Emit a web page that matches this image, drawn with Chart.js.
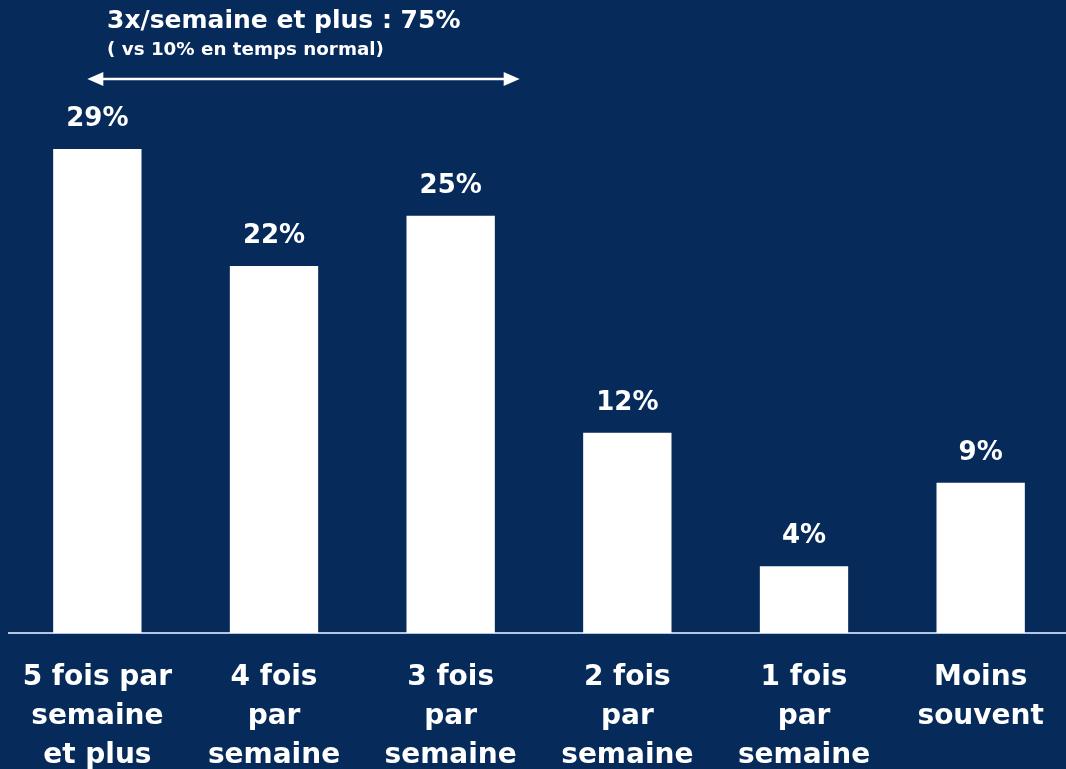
<!DOCTYPE html>
<html>
<head>
<meta charset="utf-8">
<script src="https://cdn.jsdelivr.net/npm/chart.js@4"></script>
<style>
  html, body { margin: 0; padding: 0; background: #062a5a; overflow: hidden; }
  #wrap { width: 1069px; height: 769px; }
</style>
</head>
<body>
<div id="wrap"><canvas id="freqChart"></canvas></div>
<script>
// frequency categories (multi-line labels)
const categories = [
  ['5 fois par', 'semaine', 'et plus'],
  ['4 fois', 'par', 'semaine'],
  ['3 fois', 'par', 'semaine'],
  ['2 fois', 'par', 'semaine'],
  ['1 fois', 'par', 'semaine'],
  ['Moins', 'souvent'],
];
const shares = [29, 22, 25, 12, 4, 9];

const headline = '3x/semaine et plus : 75%';
const subline = '( vs 10% en temps normal)';

const BG = '#062a5a';
const FONT = "'DejaVu Sans', sans-serif";

// paints the navy background + the % labels + the bracket on top
const decorations = {
  id: 'decorations',
  beforeDraw: (chart) => {
    const { ctx, width, height } = chart;
    ctx.save();
    ctx.fillStyle = BG;
    ctx.fillRect(0, 0, width, height);
    ctx.restore();
  },
  afterDatasetsDraw: (chart) => {
    const { ctx } = chart;
    const meta = chart.getDatasetMeta(0);
    ctx.save();
    ctx.fillStyle = '#ffffff';
    ctx.textAlign = 'center';
    ctx.textBaseline = 'middle';
    ctx.font = `700 26px ${FONT}`;
    meta.data.forEach((bar, i) => {
      ctx.fillText(`${shares[i]}%`, bar.x, bar.y - 30);
    });

    // bracket over the first three bars
    const xs = chart.scales.x;
    const x0 = xs.getPixelForValue(0) - 10;
    const x1 = xs.getPixelForValue(2) + 69;
    const ay = 79;
    ctx.strokeStyle = '#ffffff';
    ctx.lineWidth = 2.5;
    ctx.beginPath();
    ctx.moveTo(x0 + 10, ay);
    ctx.lineTo(x1 - 10, ay);
    ctx.stroke();
    ctx.beginPath();
    ctx.moveTo(x0, ay);
    ctx.lineTo(x0 + 16, ay - 7);
    ctx.lineTo(x0 + 16, ay + 7);
    ctx.closePath();
    ctx.fill();
    ctx.beginPath();
    ctx.moveTo(x1, ay);
    ctx.lineTo(x1 - 16, ay - 7);
    ctx.lineTo(x1 - 16, ay + 7);
    ctx.closePath();
    ctx.fill();

    ctx.textAlign = 'left';
    ctx.font = `700 25px ${FONT}`;
    ctx.fillText(headline, 107, 21);
    ctx.font = `700 18.3px ${FONT}`;
    ctx.fillText(subline, 107, 50);
    ctx.restore();
  },
};

const ctx = document.getElementById('freqChart');

new Chart(ctx, {
  type: 'bar',
  data: {
    labels: categories,
    datasets: [
      {
        data: shares,
        backgroundColor: '#ffffff',
        borderWidth: 0,
        categoryPercentage: 1,
        barPercentage: 0.5,
      },
    ],
  },
  options: {
    responsive: true,
    maintainAspectRatio: false,
    animation: false,
    layout: {
      padding: { top: 49, left: 9, right: 0, bottom: 0 },
    },
    plugins: {
      legend: { display: false },
      tooltip: { enabled: false },
    },
    scales: {
      x: {
        grid: { display: false, drawTicks: false },
        border: { display: true, color: '#b3c6e6', width: 2 },
        ticks: {
          color: '#ffffff',
          font: { family: FONT, size: 28, weight: '700', lineHeight: 1.39 },
          padding: 25,
          maxRotation: 0,
          autoSkip: false,
        },
        afterFit: (scale) => {
          scale.height = 136;
          // labels may overhang the edges, don't let them squeeze the bars
          scale.paddingLeft = 0;
          scale.paddingRight = 0;
        },
      },
      y: {
        display: false,
        min: 0,
        max: 35,
      },
    },
  },
  plugins: [decorations],
});
</script>
</body>
</html>
